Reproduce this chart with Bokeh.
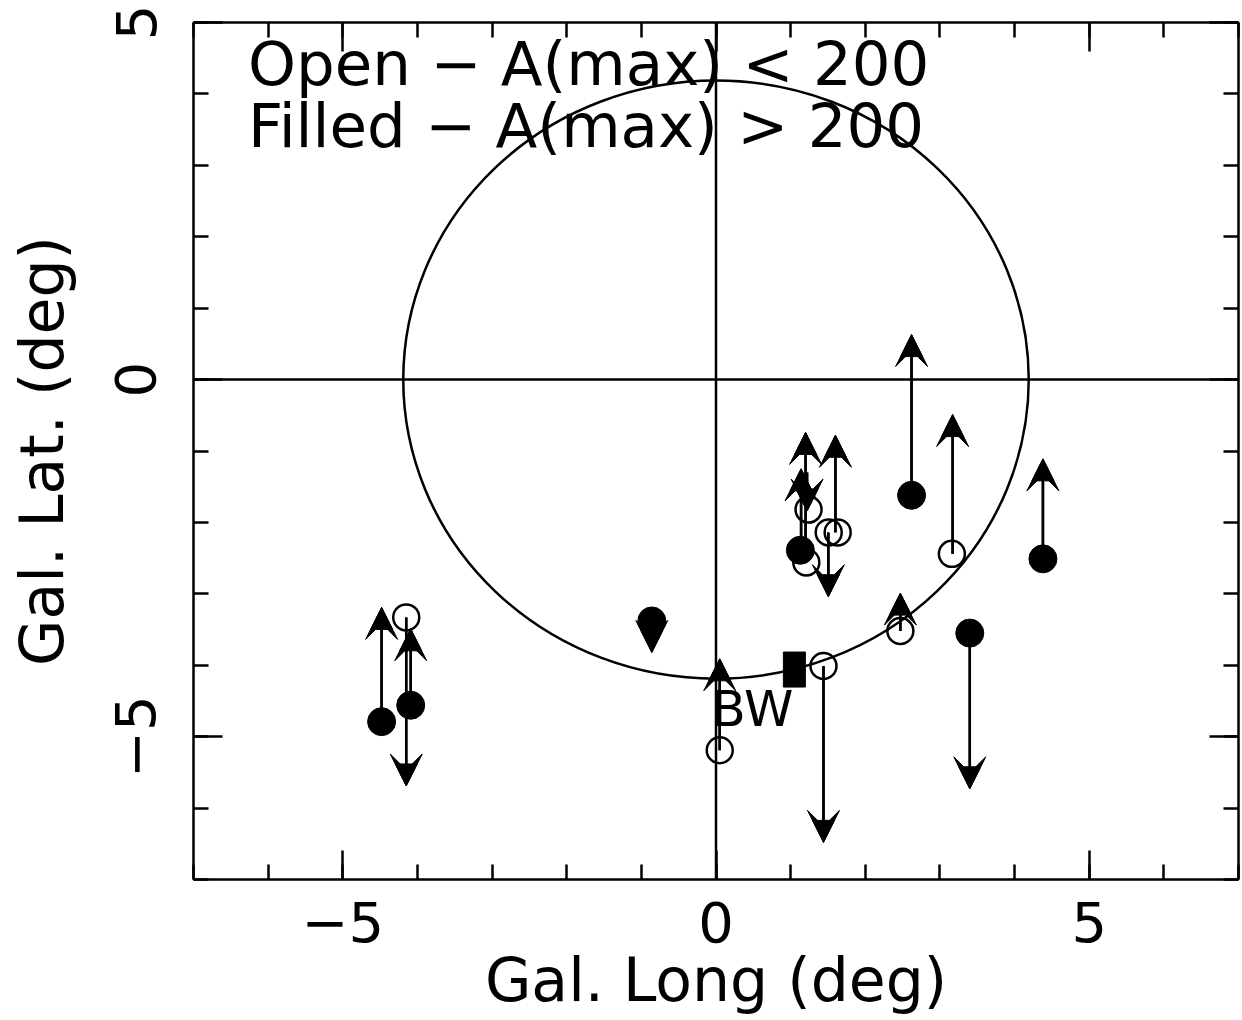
from bokeh.plotting import figure
from bokeh.models import (Arrow, VeeHead, NormalHead, ColumnDataSource, Span, LinearAxis,
                          SingleIntervalTicker, Range1d)
from bokeh.core.properties import value
from bokeh.embed import file_html
from bokeh.resources import INLINE

# ---- data (galactic longitude / latitude, degrees) ----
filled_l = [-4.48, -4.09, -0.86, 1.13, 2.62, 4.38, 3.40]
filled_b = [-4.79, -4.56, -3.38, -2.39, -1.62, -2.51, -3.55]

open_l = [-4.15, 0.05, 1.24, 1.21, 1.51, 1.63, 3.16, 2.47, 1.44]
open_b = [-3.33, -5.19, -1.82, -2.56, -2.14, -2.14, -2.44, -3.52, -4.01]

square_l = [1.05]
square_b = [-4.06]

arrow_l = [-4.48, -4.09, -4.15, -0.86, 0.05, 1.14, 1.20, 1.60, 1.505, 1.22,
           2.62, 3.17, 4.38, 2.47, 3.40, 1.44]
arrow_b_from = [-4.79, -4.56, -3.33, -3.38, -5.19, -2.39, -2.56, -2.14, -2.14, -1.30,
                -1.62, -2.44, -2.51, -3.52, -3.55, -4.01]
arrow_b_to = [-3.19, -3.49, -5.69, -3.82, -3.91, -1.25, -0.74, -0.78, -3.04, -1.84,
              0.63, -0.49, -1.11, -2.99, -5.73, -6.48]

circle_radius = 4.19
bw_label = ["BW"]
bw_l = [-0.06]
bw_b = [-4.61]

legend_lines = ["Open \u2212 A(max) < 200", "Filled \u2212 A(max) > 200"]
legend_l = [-6.27, -6.27]
legend_b = [4.43, 3.56]

tick_labels = {-5: "\u22125", 0: "0", 5: "5"}
no_labels = {-5: "", 0: "", 5: ""}

FONT = "DejaVu Sans"

p = figure(frame_width=1045, frame_height=857,
           x_range=Range1d(-7, 7), y_range=Range1d(-7, 5),
           output_backend="svg", toolbar_location=None,
           min_border_left=193, min_border_right=4,
           min_border_top=22, min_border_bottom=141,
           x_axis_label="Gal. Long (deg)", y_axis_label="Gal. Lat. (deg)")
p.xgrid.visible = False
p.ygrid.visible = False
p.outline_line_color = None
p.background_fill_color = "white"
p.border_fill_color = "white"


def style_axis(ax, show_labels=True):
    ax.ticker = SingleIntervalTicker(interval=5, num_minor_ticks=5)
    ax.axis_line_color = "black"
    ax.axis_line_width = 2.5
    ax.major_tick_in = 29
    ax.major_tick_out = 0
    ax.minor_tick_in = 15
    ax.minor_tick_out = 0
    ax.major_tick_line_color = "black"
    ax.minor_tick_line_color = "black"
    ax.major_tick_line_width = 2.5
    ax.minor_tick_line_width = 2.5
    if show_labels:
        ax.major_label_overrides = tick_labels
        ax.major_label_text_font = FONT
        ax.major_label_text_font_size = "56px"
        ax.major_label_text_color = "black"
        ax.axis_label_text_font = FONT
        ax.axis_label_text_font_size = "60px"
        ax.axis_label_text_font_style = "normal"
        ax.axis_label_text_color = "black"
    else:
        ax.major_label_overrides = no_labels
        ax.major_label_text_font_size = "10px"
        ax.major_label_standoff = 0


style_axis(p.xaxis[0])
style_axis(p.yaxis[0])
p.xaxis[0].major_label_standoff = 22
p.xaxis[0].axis_label_standoff = 0
p.yaxis[0].major_label_orientation = "vertical"
p.yaxis[0].major_label_standoff = 38
p.yaxis[0].axis_label_standoff = 36

top = LinearAxis()
style_axis(top, show_labels=False)
p.add_layout(top, "above")
right = LinearAxis()
style_axis(right, show_labels=False)
p.add_layout(right, "right")

# reference lines and circle
p.add_layout(Span(location=0, dimension="width", line_color="black", line_width=2.5))
p.add_layout(Span(location=0, dimension="height", line_color="black", line_width=2.5))
p.ellipse(x=[0], y=[0], width=[2 * circle_radius], height=[2 * circle_radius],
          fill_color=None, line_color="black", line_width=2.5)

# arrows (limits): barbed head = vee + inner triangle
asrc = ColumnDataSource(dict(x0=arrow_l, y0=arrow_b_from, x1=arrow_l, y1=arrow_b_to))
p.add_layout(Arrow(end=VeeHead(size=32, fill_color="black", line_color="black", line_width=1),
                   x_start="x0", y_start="y0", x_end="x1", y_end="y1",
                   source=asrc, line_color="black", line_width=2.5))
p.add_layout(Arrow(end=NormalHead(size=22, fill_color="black", line_color="black", line_width=1),
                   x_start="x0", y_start="y0", x_end="x1", y_end="y1",
                   source=asrc, line_color="black", line_width=2.5))

# markers
p.scatter(filled_l, filled_b, size=28, marker="circle",
          fill_color="black", line_color="black")
p.scatter(open_l, open_b, size=26, marker="circle",
          fill_color=None, line_color="black", line_width=2.5)
p.rect(square_l, square_b, width=22, height=35, width_units="screen",
       height_units="screen", fill_color="black", line_color="black")

# texts
p.text(x=bw_l, y=bw_b, text=bw_label, text_font=value(FONT),
       text_font_size="50px", text_baseline="alphabetic", text_align="left",
       text_color="black")
p.text(x=legend_l, y=legend_b, text=legend_lines, text_font=value(FONT),
       text_font_size="61px", text_baseline="alphabetic", text_align="left",
       text_color="black")

open("out.html", "w").write(file_html(p, INLINE))
